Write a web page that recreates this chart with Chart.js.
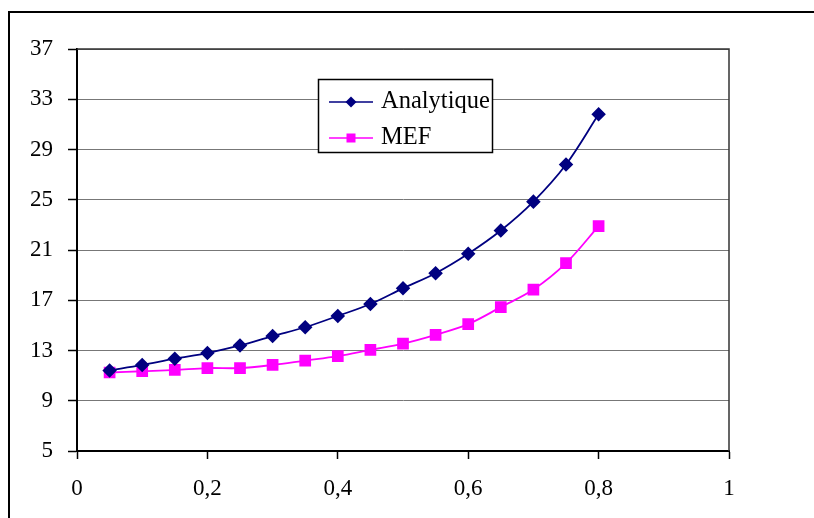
<!DOCTYPE html>
<html>
<head>
<meta charset="utf-8">
<script src="https://cdn.jsdelivr.net/npm/chart.js@4/dist/chart.umd.min.js"></script>
<style>
  html, body { margin: 0; padding: 0; background: #fff; }
  #wrap { width: 814px; height: 518px; }
</style>
</head>
<body>
<div id="wrap"><canvas id="chart" width="814" height="518"></canvas></div>
<script>
const xValues = [0.05, 0.1, 0.15, 0.2, 0.25, 0.3, 0.35, 0.4, 0.45, 0.5, 0.55, 0.6, 0.65, 0.7, 0.75, 0.8];
const analytique = [11.4, 11.85, 12.35, 12.8, 13.4, 14.15, 14.85, 15.75, 16.7, 17.95, 19.15, 20.7, 22.55, 24.85, 27.8, 31.8];
const mef = [11.25, 11.35, 11.45, 11.6, 11.6, 11.85, 12.2, 12.55, 13.05, 13.55, 14.25, 15.1, 16.45, 17.85, 19.95, 22.9];
const seriesNames = ["Analytique", "MEF"];
const seriesColors = ["#000080", "#ff00ff"];

const toPoints = (ys) => xValues.map((x, i) => ({ x: x, y: ys[i] }));

Chart.defaults.font.family = '"Liberation Serif", "Times New Roman", serif';
Chart.defaults.font.size = 23;
Chart.defaults.color = "#000";

// outer frame, plot border and the boxed legend
const decorations = {
  id: "decorations",
  afterDraw(chart) {
    const ctx = chart.ctx;
    const a = chart.chartArea;
    ctx.save();
    ctx.strokeStyle = "#000";
    ctx.lineWidth = 2;
    ctx.strokeRect(9, 12, 900, 600);

    ctx.lineWidth = 1.5;
    ctx.strokeStyle = "#333";
    ctx.beginPath();
    ctx.moveTo(a.left, a.top);
    ctx.lineTo(a.right, a.top);
    ctx.lineTo(a.right, a.bottom);
    ctx.stroke();

    ctx.fillStyle = "#fff";
    ctx.fillRect(318, 79, 174, 73);
    ctx.strokeStyle = "#000";
    ctx.lineWidth = 1.5;
    ctx.strokeRect(318.5, 79.5, 174, 73);

    const rows = [102, 138];
    rows.forEach((y, i) => {
      ctx.strokeStyle = seriesColors[i];
      ctx.lineWidth = 1.5;
      ctx.beginPath();
      ctx.moveTo(329, y);
      ctx.lineTo(373, y);
      ctx.stroke();
      ctx.fillStyle = seriesColors[i];
      if (i === 0) {
        ctx.beginPath();
        ctx.moveTo(351, y - 5.5);
        ctx.lineTo(356.5, y);
        ctx.lineTo(351, y + 5.5);
        ctx.lineTo(345.5, y);
        ctx.closePath();
        ctx.fill();
      } else {
        ctx.fillRect(346.5, y - 4.5, 9, 9);
      }
      ctx.fillStyle = "#000";
      ctx.font = '24.5px "Liberation Serif", "Times New Roman", serif';
      ctx.textBaseline = "alphabetic";
      ctx.fillText(seriesNames[i], 381, y + 6);
    });
    ctx.restore();
  }
};

new Chart(document.getElementById("chart"), {
  type: "line",
  data: {
    datasets: [
      {
        label: seriesNames[0],
        data: toPoints(analytique),
        borderColor: seriesColors[0],
        backgroundColor: seriesColors[0],
        borderWidth: 1.8,
        pointStyle: "rectRot",
        pointRadius: 6,
        pointHoverRadius: 6,
        tension: 0.35,
        fill: false
      },
      {
        label: seriesNames[1],
        data: toPoints(mef),
        borderColor: seriesColors[1],
        backgroundColor: seriesColors[1],
        borderWidth: 1.8,
        pointStyle: "rect",
        pointRadius: 7,
        pointHoverRadius: 7,
        tension: 0.35,
        fill: false
      }
    ]
  },
  options: {
    responsive: false,
    animation: false,
    layout: { padding: { left: 0, top: 49, right: 85, bottom: 0 } },
    plugins: { legend: { display: false }, tooltip: { enabled: false } },
    scales: {
      x: {
        type: "linear",
        min: 0,
        max: 1,
        ticks: {
          stepSize: 0.2,
          padding: 16,
          maxRotation: 0,
          callback: (v) => String(Math.round(v * 10) / 10).replace(".", ",")
        },
        grid: {
          drawOnChartArea: false,
          drawTicks: true,
          tickLength: 8,
          tickColor: "#000",
          tickWidth: 1.5
        },
        border: { color: "#000", width: 2 },
        afterFit: (s) => { s.height = 67; }
      },
      y: {
        min: 5,
        max: 37,
        ticks: { stepSize: 4, padding: 15 },
        grid: {
          color: "#777",
          lineWidth: 1,
          borderDash: [1, 1],
          tickLength: 9,
          tickColor: "#000",
          tickWidth: 1.5,
          tickBorderDash: []
        },
        border: { color: "#000", width: 2 },
        afterFit: (s) => { s.width = 77; }
      }
    }
  },
  plugins: [decorations]
});
</script>
</body>
</html>
